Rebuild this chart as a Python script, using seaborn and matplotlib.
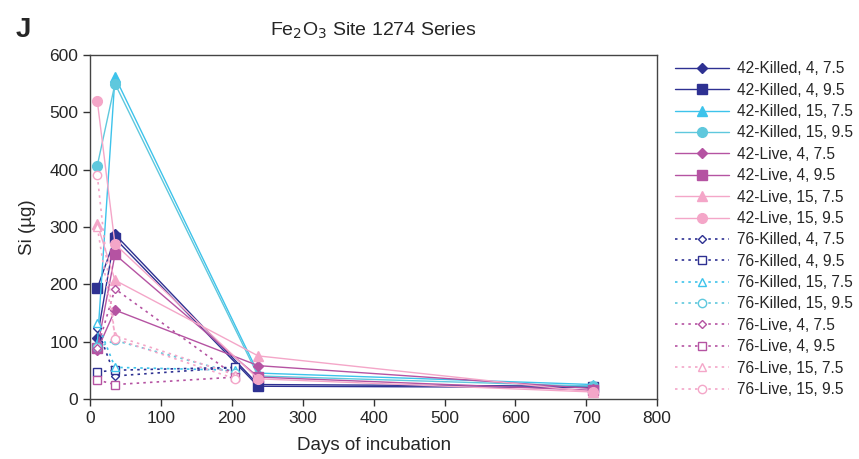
import matplotlib
matplotlib.use("Agg")
import matplotlib.pyplot as plt
import seaborn as sns
import pandas as pd

sns.set_style("ticks")
plt.rcParams['font.family'] = ['Liberation Sans', 'DejaVu Sans']

days_42 = [10, 35, 237, 710]
days_76 = [10, 35, 205]

labels = [
    "42-Killed, 4, 7.5", "42-Killed, 4, 9.5", "42-Killed, 15, 7.5", "42-Killed, 15, 9.5",
    "42-Live, 4, 7.5", "42-Live, 4, 9.5", "42-Live, 15, 7.5", "42-Live, 15, 9.5",
    "76-Killed, 4, 7.5", "76-Killed, 4, 9.5", "76-Killed, 15, 7.5", "76-Killed, 15, 9.5",
    "76-Live, 4, 7.5", "76-Live, 4, 9.5", "76-Live, 15, 7.5", "76-Live, 15, 9.5",
]

si_values = [
    [107, 287, 25, 22],
    [193, 280, 22, 20],
    [95, 562, 45, 25],
    [407, 550, 40, 22],
    [85, 155, 58, 18],
    [88, 252, 38, 15],
    [305, 207, 75, 12],
    [520, 270, 35, 12],
    [123, 40, 55],
    [47, 50, 55],
    [133, 55, 50],
    [90, 102, 45],
    [88, 192, 40],
    [33, 25, 38],
    [300, 110, 42],
    [390, 105, 35],
]

colors = ["#2E3192", "#2E3192", "#3DC3EB", "#5FC8DD",
          "#B553A2", "#B553A2", "#F4A6C8", "#F4A6C8"] * 2
markers = ["D", "s", "^", "o"] * 4
msizes = [5, 7, 7, 7] * 4

fig = plt.figure(figsize=(8.59, 4.59), dpi=100)
ax = fig.add_axes([0.105, 0.131, 0.66, 0.749])

for i, (lab, vals) in enumerate(zip(labels, si_values)):
    is76 = lab.startswith("76")
    xs = days_76 if is76 else days_42
    df = pd.DataFrame({"Days": xs, "Si": vals})
    sns.lineplot(data=df, x="Days", y="Si", ax=ax, color=colors[i],
                 marker=markers[i], markersize=msizes[i] if not is76 else msizes[i] - 1,
                 linestyle=(0, (1.5, 2.5)) if is76 else "-", linewidth=1.2 if is76 else 1.0,
                 markerfacecolor="white" if is76 else colors[i],
                 markeredgecolor=colors[i], markeredgewidth=1.0,
                 label=lab, sort=False)

ax.set_xlim(0, 800)
ax.set_ylim(0, 600)
ax.set_xticks(range(0, 801, 100))
ax.set_yticks(range(0, 601, 100))
ax.tick_params(labelsize=12.5, direction="out", length=5, width=1, color="#333333")
for s in ax.spines.values():
    s.set_color("#444444")
    s.set_linewidth(1.0)
ax.set_xlabel("Days of incubation", fontsize=13.5, labelpad=8)
ax.set_ylabel("Si (µg)", fontsize=13.5, labelpad=10)
ax.set_title("Fe$_2$O$_3$ Site 1274 Series", fontsize=14, pad=14)

fig.text(0.018, 0.92, "J", fontsize=20, fontweight="bold")

leg = ax.legend(loc="upper left", bbox_to_anchor=(1.02, 1.0), frameon=False,
                fontsize=11.2, handlelength=3.5, labelspacing=0.41,
                borderaxespad=0.0, handletextpad=0.5)

fig.savefig("out.png", dpi=100)
